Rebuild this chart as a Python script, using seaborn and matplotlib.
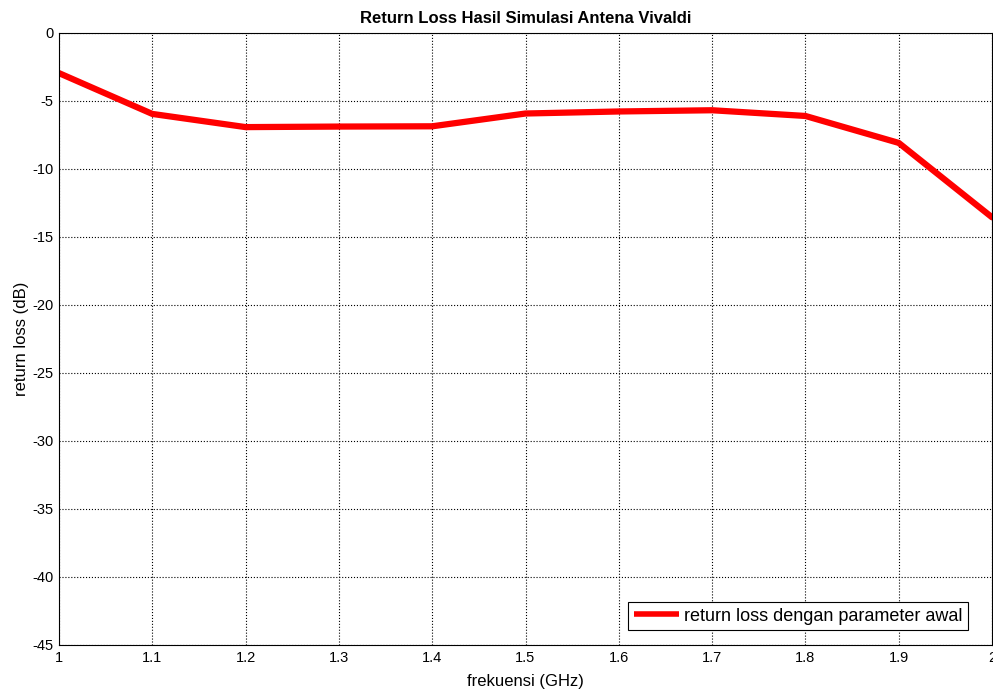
import matplotlib
matplotlib.use("Agg")
import matplotlib.pyplot as plt
import seaborn as sns
import pandas as pd

freq = [1.0, 1.1, 1.2, 1.3, 1.4, 1.5, 1.6, 1.7, 1.8, 1.9, 2.0]
return_loss = [-2.95, -5.95, -6.92, -6.88, -6.86, -5.92, -5.77, -5.68, -6.1, -8.08, -13.55]
x_ticks = [1, 1.1, 1.2, 1.3, 1.4, 1.5, 1.6, 1.7, 1.8, 1.9, 2]
x_labels = ["1", "1.1", "1.2", "1.3", "1.4", "1.5", "1.6", "1.7", "1.8", "1.9", "2"]
y_ticks = [0, -5, -10, -15, -20, -25, -30, -35, -40, -45]
y_labels = ["0", "-5", "-10", "-15", "-20", "-25", "-30", "-35", "-40", "-45"]
series_name = "return loss dengan parameter awal"

df = pd.DataFrame({"freq": freq, "rl": return_loss, "series": series_name})

sns.set_style("white")
plt.rcParams["font.family"] = ["Liberation Sans", "DejaVu Sans"]
plt.rcParams["axes.unicode_minus"] = False
plt.rcParams["text.color"] = "black"
plt.rcParams["axes.labelcolor"] = "black"
plt.rcParams["xtick.color"] = "black"
plt.rcParams["ytick.color"] = "black"

fig = plt.figure(figsize=(9.93, 6.92), dpi=100)
ax = fig.add_axes([59/993, 1-645/692, (992-59)/993, (645-33)/692])

sns.lineplot(data=df, x="freq", y="rl", hue="series", palette=["#ff0000"],
             linewidth=4.5, ax=ax, legend=True)

ax.set_xlim(1, 2)
ax.set_ylim(-45, 0)
ax.set_xticks(x_ticks)
ax.set_xticklabels(x_labels)
ax.set_yticks(y_ticks)
ax.set_yticklabels(y_labels)
ax.tick_params(axis="both", labelsize=10.5, direction="in", length=4, color="black", pad=4)
ax.grid(True, color="black", linestyle=":", linewidth=0.8)
for s in ax.spines.values():
    s.set_color("black")
    s.set_linewidth(0.8)
ax.set_xlabel("frekuensi (GHz)", fontsize=12, labelpad=7)
ax.set_ylabel("return loss (dB)", fontsize=12, labelpad=2)
ax.set_title("Return Loss Hasil Simulasi Antena Vivaldi", fontsize=12, fontweight="bold", pad=7)

leg = ax.legend(loc="lower right", bbox_to_anchor=((968 - 59) / 933, (645 - 630) / 612),
                fontsize=13, frameon=True, fancybox=False,
                edgecolor="black", framealpha=1, borderaxespad=0.0,
                handlelength=2.5, handletextpad=0.3, borderpad=0.3)
leg.get_frame().set_linewidth(0.8)
for h in leg.get_lines():
    h.set_linewidth(4)
    h.set_solid_capstyle("butt")

fig.savefig("out.png", dpi=100)
